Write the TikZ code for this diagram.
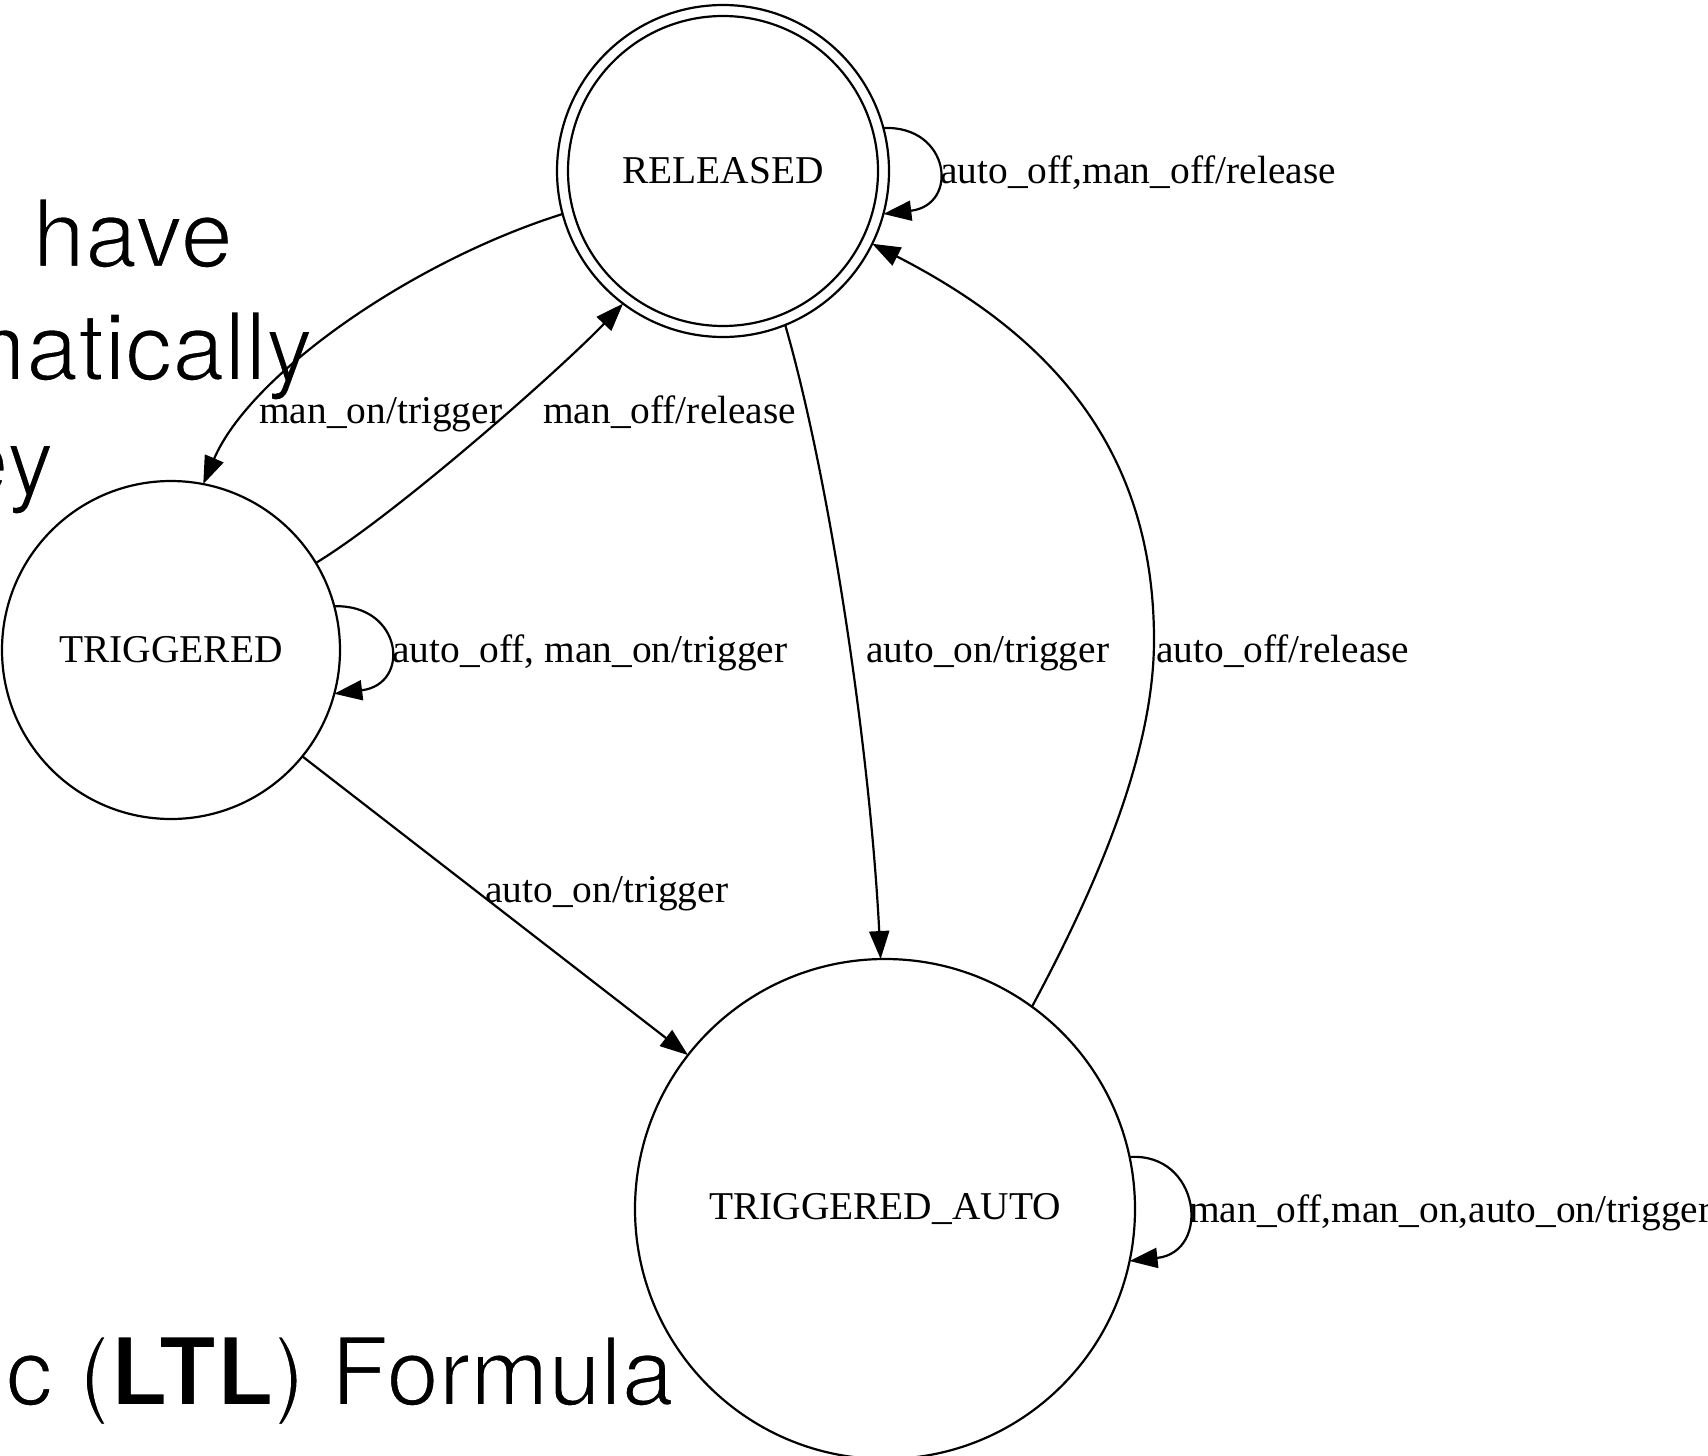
\documentclass[tikz,border=0pt]{standalone}
\usepackage{fontspec}
\newfontfamily\gvfont{Liberation Serif}
\newfontfamily\slidefont{TeX Gyre Heros}
\usetikzlibrary{arrows.meta}
% thin the slide lettering: fill, then stroke the outline in white
\newcommand\thinon{\special{pdf:literal direct 1 1 1 RG 2 w 2 Tr}}
\newcommand\thinoff{\special{pdf:literal direct 0 Tr 0 0 0 RG}}
\begin{document}
\begin{tikzpicture}[x=1pt,y=-1pt,
  state/.style={circle,draw,line width=2.2pt,inner sep=0pt,outer sep=0pt,
    font={\gvfont\fontsize{39.4}{47}\selectfont}},
  edge/.style={line width=2.2pt,-{Triangle[length=28pt,width=20pt]}},
  elabel/.style={anchor=base west,inner sep=0pt,
    font={\gvfont\fontsize{39.4}{47}\selectfont}},
  slide/.style={anchor=base east,inner sep=0pt,
    font={\slidefont\fontsize{94}{113}\selectfont}}]
\path[use as bounding box] (0,0) rectangle (1708,1456);
\clip (0,0) rectangle (1708,1456);

% slide text behind the graph
\node[slide] (s1) at (233,267) {\thinon have\thinoff};
\node[slide] (s2) at (313,380) {\thinon matically\thinoff};
\node[slide] (s3) at (54,494) {\thinon ey\thinoff};
\node[slide] (s4) at (674,1405) {\thinon c (\textbf{LTL}) Formula\thinoff};

% states
\node[state,minimum size=332pt] (rel) at (723,171) {RELEASED};
\draw[line width=2.2pt] (rel.center) circle[radius=155pt];
\node[state,minimum size=338pt] (tr) at (171,650) {TRIGGERED};
\node[state,minimum size=500pt] (ta) at (885,1209) {TRIGGERED\_AUTO};

% transitions
\draw[edge] (rel.195) .. controls (410,262) and (250,375) .. (tr.79);
\draw[edge] (tr.31) .. controls (398,513) and (563,367) .. (rel.233);
\draw[edge] (rel.292) .. controls (830,480) and (870,750) .. (ta.91);
\coordinate (bend) at (1154,640);
\draw[edge] (ta.54) .. controls (1100,880) and (1154,750) .. (bend)
  .. controls (1154,440) and (1040,330) .. (rel.334);
\draw[edge] (tr.321) -- (ta.142);

% self loops
\draw[edge] (rel.15) .. controls (950,125) and (960,205) .. (rel.345);
\draw[edge] (tr.15) .. controls (402,604) and (412,684) .. (tr.345);
\draw[edge] (ta.12) .. controls (1200,1152) and (1212,1252) .. (ta.348);

% transition labels
\node[elabel] (l1) at (259,423) {man\_on/trigger};
\node[elabel] (l2) at (543,423) {man\_off/release};
\node[elabel] (l3) at (392,662) {auto\_off, man\_on/trigger};
\node[elabel] (l4) at (866,662) {auto\_on/trigger};
\node[elabel] (l5) at (1156,662) {auto\_off/release};
\node[elabel] (l6) at (485,902) {auto\_on/trigger};
\node[elabel] (l7) at (940,183) {auto\_off,man\_off/release};
\node[elabel] (l8) at (1189,1222) {man\_off,man\_on,auto\_on/trigger};
\end{tikzpicture}
\end{document}
